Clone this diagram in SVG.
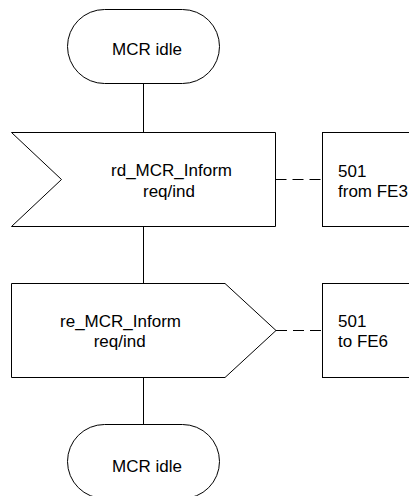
<svg xmlns="http://www.w3.org/2000/svg" width="409" height="496" viewBox="0 0 409 496">
<style>
.s{fill:#fff;stroke:#000;stroke-width:1}
.c{fill:none;stroke:#000;stroke-width:1}
.d{fill:none;stroke:#000;stroke-width:1;stroke-dasharray:11 6}
text{font-family:"Liberation Sans",Arial,sans-serif;font-size:17px;fill:#000}
.m{text-anchor:middle}
</style>
<rect width="409" height="496" fill="#fff"/>
<g id="connectors">
<line class="c" x1="143.5" y1="83.5" x2="143.5" y2="132.5"/>
<line class="c" x1="143.5" y1="226.5" x2="143.5" y2="283.5"/>
<line class="c" x1="143.5" y1="377.5" x2="143.5" y2="424.5"/>
<line class="d" x1="275.5" y1="179.5" x2="322.5" y2="179.5"/>
<line class="d" x1="276" y1="330.5" x2="322.5" y2="330.5"/>
</g>
<g id="start">
<rect class="s" x="67.5" y="9.5" width="152" height="74" rx="37" ry="37"/>
<text class="m" x="147" y="54.5">MCR idle</text>
</g>
<g id="receive">
<path class="s" d="M11.5 132.5 H275.5 V226.5 H11.5 L61.5 179.5 Z"/>
<text class="m" x="171.5" y="176">rd_MCR_Inform</text>
<text class="m" x="169" y="196.5">req/ind</text>
</g>
<g id="comment1">
<rect class="s" x="322.5" y="132.5" width="100" height="94"/>
<text x="338" y="176.5">501</text>
<text x="338" y="196.5">from FE3</text>
</g>
<g id="send">
<path class="s" d="M11.5 283.5 H225 L276 330.5 L225 377.5 H11.5 Z"/>
<text class="m" x="120.5" y="326.5">re_MCR_Inform</text>
<text class="m" x="119.7" y="347">req/ind</text>
</g>
<g id="comment2">
<rect class="s" x="322.5" y="283.5" width="100" height="94"/>
<text x="338" y="326.5">501</text>
<text x="338" y="346.5">to FE6</text>
</g>
<g id="end">
<rect class="s" x="67.5" y="424.5" width="152" height="74" rx="37" ry="37"/>
<text class="m" x="147" y="471.5">MCR idle</text>
</g>
</svg>
